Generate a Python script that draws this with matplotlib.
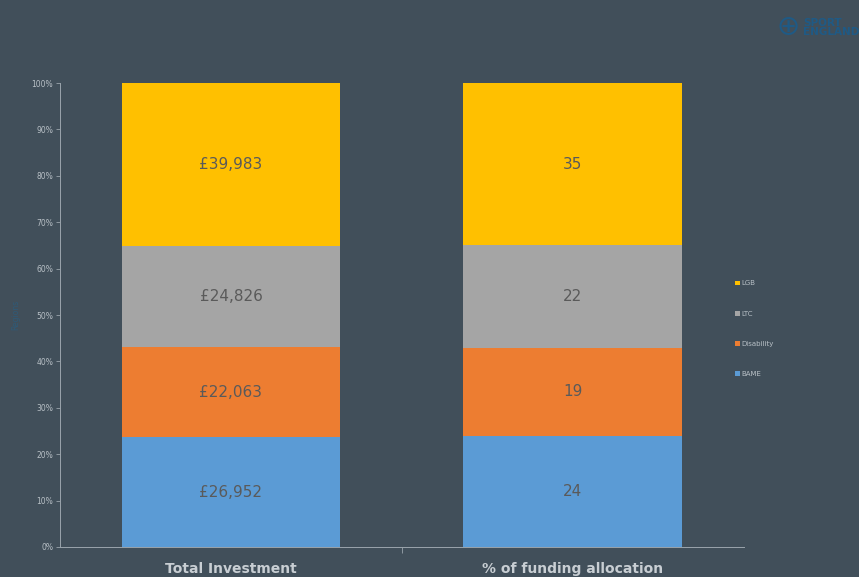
import numpy as np
import matplotlib.pyplot as plt

# --- data ---------------------------------------------------------------
categories = ["Total Investment", "% of funding allocation"]
groups = ["BAME", "Disability", "LTC", "LGB"]
total_investment = [26952, 22063, 24826, 39983]
funding_pct = [24, 19, 22, 35]

colors = ["#5B9BD5", "#ED7D31", "#A5A5A5", "#FFC000"]
BG = "#414F5A"
AX = "#9AA4AC"

fig = plt.figure(figsize=(8.59, 5.77), dpi=100, facecolor=BG)
ax = fig.add_axes([0.0698, 0.052, 0.7962, 0.804], facecolor=BG)

series = [total_investment, funding_pct]
labels = [[f"£{v:,}" for v in total_investment], [str(v) for v in funding_pct]]
x = np.arange(len(categories))

for i, (vals, labs) in enumerate(zip(series, labels)):
    vals = np.asarray(vals, dtype=float)
    frac = vals / vals.sum() * 100
    bottom = 0.0
    for j, (f, lab) in enumerate(zip(frac, labs)):
        ax.bar(x[i], f, bottom=bottom, width=0.64, color=colors[j],
               label=groups[j] if i == 0 else None)
        ax.text(x[i], bottom + f / 2, lab, ha="center", va="center",
                fontsize=11, color="#5A5A5A")
        bottom += f

ax.set_xlim(-0.5, 1.5)
ax.set_ylim(0, 100)
ax.set_yticks(np.arange(0, 101, 10))
ax.set_yticklabels([f"{t}%" for t in range(0, 101, 10)], fontsize=5.5, color="#B8C0C6")
ax.tick_params(axis="y", length=3, width=0.6, color=AX, pad=2)

# category labels drawn below, with tick between categories (Excel style)
ax.set_xticks([0.5])
ax.set_xticklabels([""])
ax.tick_params(axis="x", length=4, width=0.6, color=AX, direction="out")
for i, c in enumerate(categories):
    ax.text(x[i], -4.8, c, ha="center", va="center", fontsize=10,
            fontweight="bold", color="#C8CED3")

for sp in ("top", "right"):
    ax.spines[sp].set_visible(False)
ax.spines["left"].set_color(AX)
ax.spines["bottom"].set_color(AX)
ax.spines["left"].set_linewidth(0.7)
ax.spines["bottom"].set_linewidth(0.7)

ax.set_ylabel("Regions", fontsize=5.5, color="#2E5A78", labelpad=8)

handles, labs = ax.get_legend_handles_labels()
leg = fig.legend(handles[::-1], labs[::-1], loc="center left",
                 bbox_to_anchor=(0.848, 0.43), frameon=False, fontsize=5,
                 labelcolor="#B8C0C6", handlelength=0.7, handleheight=0.7,
                 handletextpad=0.3, labelspacing=3.5)

# logo
fig.text(0.935, 0.953, "SPORT\nENGLAND", fontsize=7.5, fontweight="bold",
         color="#1F5A85", ha="left", va="center", linespacing=0.9)
fig.text(0.918, 0.953, "⊕", fontsize=20, color="#1F5A85", ha="center", va="center")

fig.savefig("out.png", dpi=100, facecolor=BG)
